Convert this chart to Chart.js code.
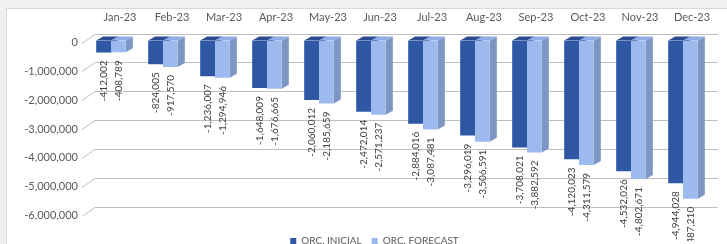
<!DOCTYPE html>
<html>
<head>
<meta charset="utf-8">
<script src="https://cdn.jsdelivr.net/npm/chart.js@4/dist/chart.umd.min.js"></script>
<style>
html,body{margin:0;padding:0;background:#f0f0f0;overflow:hidden;width:727px;height:244px;}
#wrap{position:absolute;left:0;top:0;width:727px;height:256px;}
</style>
</head>
<body>
<div id="wrap"><canvas id="c" width="727" height="256"></canvas></div>
<script>
const categories = ['Jan-23','Feb-23','Mar-23','Apr-23','May-23','Jun-23','Jul-23','Aug-23','Sep-23','Oct-23','Nov-23','Dec-23'];
const orcInicial = [-412002,-824005,-1236007,-1648009,-2060012,-2472014,-2884016,-3296019,-3708021,-4120023,-4532026,-4944028];
const orcForecast = [-408789,-917570,-1294946,-1676665,-2185659,-2571237,-3087481,-3506591,-3882592,-4311579,-4802671,-5487210];
const yTicks = [0,-1000000,-2000000,-3000000,-4000000,-5000000,-6000000];

const FONT = 'Lato, "Liberation Sans", sans-serif';
const DEPTH_X = 7, DEPTH_Y = 4;
const faceColors = [
  {top:'#294C90', side:'#22407C'},
  {top:'#8FADE4', side:'#7D96C4'}
];

const fmt = v => v.toLocaleString('en-US');

const frame = {
  id:'frame',
  beforeDraw(chart){
    const ctx = chart.ctx;
    ctx.save();
    ctx.fillStyle = '#f0f0f0';
    ctx.fillRect(0,0,chart.width,chart.height);
    ctx.fillStyle = '#ffffff';
    ctx.fillRect(6.5,8.5,chart.width,chart.height);
    ctx.strokeStyle = '#d9d9d9';
    ctx.lineWidth = 1;
    ctx.strokeRect(6.5,8.5,chart.width+10,chart.height+10);
    ctx.restore();
  },
  afterLayout(chart){
    if (chart.legend) { chart.legend.left += 20; chart.legend.right += 20; }
  }
};

const threeD = {
  id:'threeD',
  beforeDatasetsDraw(chart){
    const ctx = chart.ctx;
    const ys = chart.scales.y;
    const area = chart.chartArea;
    ctx.save();
    ctx.strokeStyle = '#bfbfbf';
    ctx.lineWidth = 1;
    yTicks.forEach(v => {
      const y = Math.round(ys.getPixelForValue(v)) + 0.5;
      ctx.beginPath();
      ctx.moveTo(area.left - 3, y + 2);
      ctx.lineTo(area.left + 10, y - 7);
      ctx.lineTo(area.right + 9, y - 7);
      ctx.stroke();
    });
    chart.data.datasets.forEach((ds, di) => {
      const meta = chart.getDatasetMeta(di);
      meta.data.forEach(el => {
        const p = el.getProps(['x','y','base','width'], true);
        const left = p.x - p.width/2, right = p.x + p.width/2;
        const top = Math.min(p.y, p.base), bottom = Math.max(p.y, p.base);
        ctx.fillStyle = faceColors[di].side;
        ctx.beginPath();
        ctx.moveTo(right, top);
        ctx.lineTo(right + DEPTH_X, top - DEPTH_Y);
        ctx.lineTo(right + DEPTH_X, bottom - DEPTH_Y);
        ctx.lineTo(right, bottom);
        ctx.closePath();
        ctx.fill();
        ctx.fillStyle = faceColors[di].top;
        ctx.beginPath();
        ctx.moveTo(left, top);
        ctx.lineTo(left + DEPTH_X, top - DEPTH_Y);
        ctx.lineTo(right + DEPTH_X, top - DEPTH_Y);
        ctx.lineTo(right, top);
        ctx.closePath();
        ctx.fill();
      });
    });
    ctx.restore();
  },
  afterDatasetsDraw(chart){
    const ctx = chart.ctx;
    ctx.save();
    ctx.beginPath();
    ctx.rect(0,0,chart.width,241);
    ctx.clip();
    ctx.fillStyle = '#404040';
    ctx.font = '10px ' + FONT;
    ctx.textAlign = 'right';
    ctx.textBaseline = 'middle';
    chart.data.datasets.forEach((ds, di) => {
      const meta = chart.getDatasetMeta(di);
      meta.data.forEach((el, i) => {
        const p = el.getProps(['x','y','base'], true);
        const bottom = Math.max(p.y, p.base);
        ctx.save();
        ctx.translate(p.x, bottom + 8);
        ctx.rotate(-Math.PI/2);
        ctx.fillText(fmt(ds.data[i]), 0, 0);
        ctx.restore();
      });
    });
    ctx.restore();
  }
};

new Chart(document.getElementById('c'), {
  type:'bar',
  data:{
    labels: categories,
    datasets:[
      {label:'ORC. INICIAL', data: orcInicial, backgroundColor:'#2F58A4', borderWidth:0},
      {label:'ORC. FORECAST', data: orcForecast, backgroundColor:'#9DBAEF', borderWidth:0}
    ]
  },
  options:{
    responsive:false,
    animation:false,
    devicePixelRatio:1,
    layout:{padding:{left:0,right:18,top:0,bottom:0}},
    categoryPercentage:0.57,
    barPercentage:1.0,
    scales:{
      x:{
        position:'top',
        grid:{display:false, drawTicks:false},
        border:{display:false},
        ticks:{color:'#595959', font:{family:FONT, size:11}, padding:16, labelOffset:9, maxRotation:0, autoSkip:false},
        afterFit(s){ s.height = 40.5; }
      },
      y:{
        min:-6430000,
        max:0,
        grid:{display:false, drawTicks:false},
        border:{display:false},
        ticks:{color:'#595959', font:{family:FONT, size:11}, padding:7, labelOffset:2, stepSize:1000000,
               callback:(v)=>fmt(v)},
        afterBuildTicks(s){ s.ticks = yTicks.map(v => ({value:v})); },
        afterFit(s){ s.width = 85; }
      }
    },
    plugins:{
      legend:{
        position:'bottom',
        labels:{color:'#595959', font:{family:FONT, size:10}, boxWidth:6, boxHeight:6, padding:10}
      },
      tooltip:{enabled:false}
    }
  },
  plugins:[frame, threeD]
});
</script>
</body>
</html>
